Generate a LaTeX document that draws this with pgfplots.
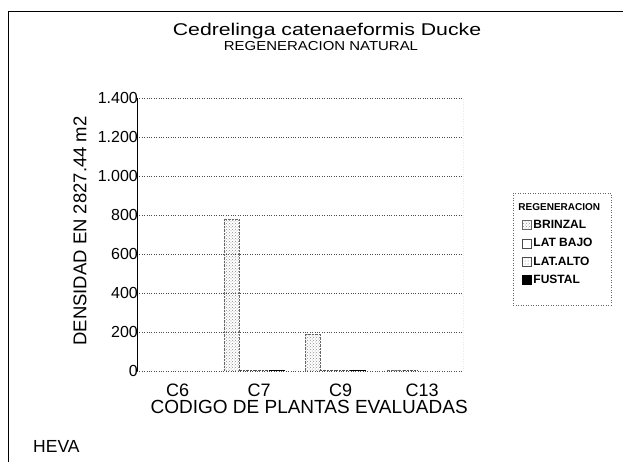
\documentclass[border=0pt]{standalone}
\usepackage{fontspec}
\setmainfont{Liberation Sans}
\setsansfont{Liberation Sans}
\newfontfamily\widefont[FakeStretch=1.25]{Liberation Sans}
\usepackage{pgfplots}
\pgfplotsset{compat=1.18}
\usetikzlibrary{patterns}
\pgfplotsset{/pgfplots/ybar legend/.style={/pgfplots/legend image code/.code={\draw[##1,solid] (0pt,-4.5pt) rectangle (9pt,4.5pt);}}}
\begin{document}
\begin{tikzpicture}
\path[use as bounding box] (0pt,0pt) rectangle (623pt,462pt);
\draw[line width=1pt] (8pt,-10pt) -- (8pt,450pt) -- (640pt,450pt);
\node[anchor=base] at (327pt,426pt) {\widefont\fontsize{17}{20}\selectfont Cedrelinga catenaeformis Ducke};
\node[anchor=base] at (321pt,411pt) {\fontsize{13}{15}\selectfont\addfontfeature{FakeStretch=1.15}REGENERACION NATURAL};
\node[anchor=base west, inner sep=0pt] at (33pt,9pt) {\fontsize{17.5}{20}\selectfont HEVA};
\begin{scope}[shift={(137pt,91pt)}]
\begin{axis}[
  at={(0pt,0pt)}, anchor=south west,
  scale only axis, width=326pt, height=273pt,
  xmin=-0.5, xmax=3.5, ymin=0, ymax=1400,
  ybar=0pt,
  xtick={0,1,2,3}, xticklabels={C6,C7,C9,C13},
  xtick style={draw=none}, ytick style={draw=none},
  ytick={0,200,400,600,800,1000,1200,1400},
  yticklabel style={font=\fontsize{16}{16}\selectfont, anchor=east, inner sep=0pt, xshift=1pt},
  xticklabel style={font=\fontsize{18}{18}\selectfont, anchor=center, yshift=-15pt},
  /pgf/number format/.cd, 1000 sep={.}, assume math mode=true, /pgfplots/.cd,
  ymajorgrids, grid style={black!70, dotted},
  axis line style={draw=none},
  xlabel={CODIGO DE PLANTAS EVALUADAS},
  xlabel style={at={(axis description cs:0.528,-0.132)}, anchor=center, font=\fontsize{19}{19}\selectfont},
  ylabel={DENSIDAD EN 2827.44 m2},
  ylabel style={at={(axis description cs:-0.175,0.513)}, anchor=center, font=\fontsize{18.5}{19}\selectfont},
  legend style={at={(axis description cs:1.153,0.652)}, anchor=north west,
    draw=black!60, dash pattern=on 1pt off 1.5pt,
    font=\bfseries\fontsize{12}{13}\selectfont, inner xsep=9pt, inner ysep=8pt,
    row sep=4.5pt, cells={anchor=west}},
]
\draw[black, line width=0.8pt] (rel axis cs:0,0) -- (rel axis cs:0,1);
\draw[black!70, dotted] (rel axis cs:1,0) -- (rel axis cs:1,1);
\addlegendimage{empty legend}
\addlegendentry{\hspace*{-15pt}\fontsize{10}{12}\selectfont REGENERACION}
\addplot[draw=black!60, densely dotted, pattern=crosshatch dots, pattern color=black!45, bar width=15pt, bar shift=-28pt]
  coordinates {(0,0) (1,780) (2,190) (3,4)};
\addlegendentry{BRINZAL}
\addplot[draw=black!70, densely dotted, fill=white, bar width=15pt, bar shift=-13pt]
  coordinates {(1,5) (2,4) (3,3)};
\addlegendentry{LAT BAJO}
\addplot[draw=black!70, densely dotted, pattern=dots, pattern color=black!55, bar width=15pt, bar shift=2pt]
  coordinates {(1,4) (2,3)};
\addlegendentry{LAT.ALTO}
\addplot[draw=black, fill=black, bar width=15pt, bar shift=17pt]
  coordinates {(1,3) (2,2)};
\addlegendentry{FUSTAL}
\addlegendimage{empty legend}
\addlegendentry{}
\end{axis}
\end{scope}
\end{tikzpicture}
\end{document}
